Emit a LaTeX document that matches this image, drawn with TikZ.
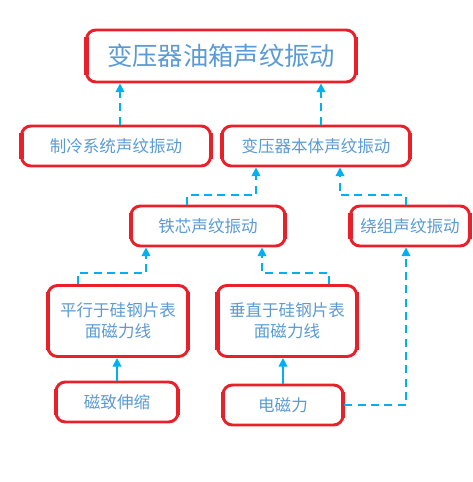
\documentclass[tikz,border=0pt]{standalone}
\usepackage{fontspec}
\newfontfamily\cjk{Noto Sans CJK SC}
\usetikzlibrary{arrows.meta}
\definecolor{boxred}{HTML}{E8202A}
\definecolor{txtblue}{HTML}{5B9BD5}
\definecolor{lineblue}{HTML}{00B0F0}
\begin{document}
\begin{tikzpicture}[x=0.75pt,y=-0.75pt,
  box/.style={draw=boxred, line width=2.2pt, rounded corners=7pt, fill=white,
    text=txtblue, font=\cjk\fontsize{12.4}{16}\selectfont, align=center,
    minimum height=40*0.75pt, inner sep=0pt},
  conn/.style={draw=lineblue, line width=1.3pt, dashed, dash pattern=on 6pt off 4pt,
    -{Triangle[length=6.5pt,width=6.5pt]}},
  sconn/.style={draw=lineblue, line width=1.3pt, -{Triangle[length=6.5pt,width=6.5pt]}}]
\useasboundingbox (0,0) rectangle (473,482);
\node[box, minimum width=269*0.75pt, minimum height=52*0.75pt,
  font=\cjk\fontsize{19}{22}\selectfont] (top) at (221,56) {变压器油箱声纹振动};
\node[box, minimum width=189*0.75pt] (zl) at (116,146) {制冷系统声纹振动};
\node[box, minimum width=188*0.75pt] (bt) at (316,146) {变压器本体声纹振动};
\node[box, minimum width=154*0.75pt] (tx) at (208,226) {铁芯声纹振动};
\node[box, minimum width=119*0.75pt] (rz) at (410,226) {绕组声纹振动};
\node[box, minimum width=140*0.75pt, minimum height=71*0.75pt] (px) at (118,321) {平行于硅钢片表\\面磁力线};
\node[box, minimum width=139*0.75pt, minimum height=71*0.75pt] (cz) at (287,321) {垂直于硅钢片表\\面磁力线};
\node[box, minimum width=122*0.75pt] (cs) at (117,402) {磁致伸缩};
\node[box, minimum width=120*0.75pt] (dc) at (283,405) {电磁力};
\foreach \n in {top,zl,bt,tx,rz,px,cz,cs,dc}{
  \draw[boxred, line width=3.2pt] ([xshift=1pt,yshift=-6pt]\n.north west) -- ([xshift=1pt,yshift=6pt]\n.south west);
  \draw[boxred, line width=3.2pt] ([xshift=-1pt,yshift=-6pt]\n.north east) -- ([xshift=-1pt,yshift=6pt]\n.south east);
}
\draw[conn] (zl.north -| 120,0) -- (top.south -| 120,0);
\draw[conn] (bt.north -| 321,0) -- (top.south -| 321,0);
\draw[conn] (tx.north -| 187,0) -- (187,195) -- (256,195) -- (bt.south -| 256,0);
\draw[conn] (rz.north -| 406,0) -- (406,195) -- (340,195) -- (bt.south -| 340,0);
\draw[conn] (px.north -| 78,0) -- (78,273) -- (146,273) -- (tx.south -| 146,0);
\draw[conn] (cz.north -| 329,0) -- (329,273) -- (262,273) -- (tx.south -| 262,0);
\draw[sconn] (cs.north -| 117,0) -- (px.south -| 117,0);
\draw[sconn] (dc.north -| 283,0) -- (cz.south -| 283,0);
\draw[conn] (dc.east) -- (406,405) -- (rz.south -| 406,0);
\end{tikzpicture}
\end{document}
